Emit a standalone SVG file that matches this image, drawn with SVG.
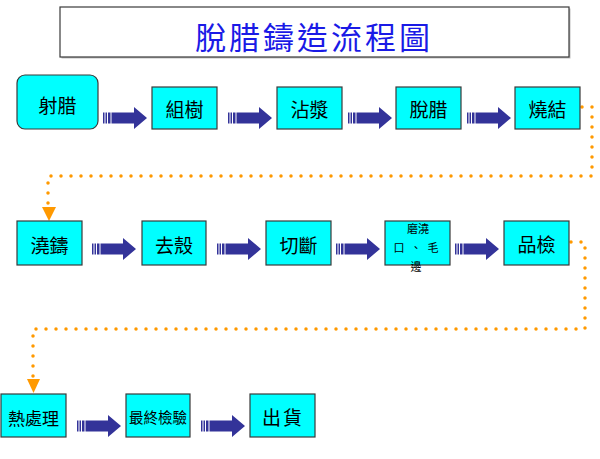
<svg xmlns="http://www.w3.org/2000/svg" xmlns:xlink="http://www.w3.org/1999/xlink" width="600" height="459" viewBox="0 0 600 459">
<style>
.box{fill:#00FFFF;stroke:#3a3a3a;stroke-width:1.2}
.sh{fill:#c0c0c0}
.t{font-family:"Noto Sans CJK TC","Noto Sans CJK SC",sans-serif;fill:#000;text-anchor:middle;dominant-baseline:central}
.dot{fill:none;stroke:#FF9900;stroke-width:3.5;stroke-linecap:round;stroke-dasharray:0 10}
.ah{fill:#FF9900}
</style>
<defs>
<g id="arr" fill="#333399">
<rect x="0" y="-5.5" width="1.5" height="11"/>
<rect x="2.5" y="-5.5" width="1.5" height="11"/>
<rect x="5" y="-5.5" width="2.5" height="11"/>
<path d="M8.5 -5.5 H31 V-11 L44 0 L31 11 V5.5 H8.5 Z"/>
</g>
</defs>
<rect width="600" height="459" fill="#fff"/>
<g id="title">
<rect x="61.5" y="8.5" width="509" height="50" class="sh"/>
<rect x="60" y="7" width="509" height="50" fill="#fff" stroke="#3a3a3a" stroke-width="1.2"/>
<text x="314" y="35" font-family="'Noto Sans CJK TC','Noto Sans CJK SC',sans-serif" font-size="31" letter-spacing="3" fill="#1a1ae6" text-anchor="middle" dominant-baseline="central">脫腊鑄造流程圖</text>
</g>
<g id="connectors">
<use xlink:href="#arr" x="103" y="118"/>
<use xlink:href="#arr" x="228" y="118"/>
<use xlink:href="#arr" x="348" y="118"/>
<use xlink:href="#arr" x="467" y="118"/>
<use xlink:href="#arr" x="92" y="249"/>
<use xlink:href="#arr" x="217" y="249"/>
<use xlink:href="#arr" x="336" y="249"/>
<use xlink:href="#arr" x="455" y="249"/>
<use xlink:href="#arr" x="77" y="426"/>
<use xlink:href="#arr" x="201" y="426"/>
<path class="dot" d="M582 107 H592 V176 H48 V206"/>
<polygon class="ah" points="42,207 56,207 49,221"/>
<path class="dot" d="M571 242 H585 V329 H33 V379"/>
<polygon class="ah" points="27,379 40,379 33.5,393"/>
</g>
<g id="n1">
<rect x="17" y="75" width="81" height="54" rx="8" class="box"/>
<text x="57.5" y="104" class="t" font-size="19">射腊</text>
</g>
<g id="n2">
<rect x="152" y="87" width="65" height="42" class="box"/>
<text x="184.5" y="108" class="t" font-size="19">組樹</text>
</g>
<g id="n3">
<rect x="277" y="87" width="65" height="42" class="box"/>
<text x="309.5" y="108" class="t" font-size="19">沾漿</text>
</g>
<g id="n4">
<rect x="396" y="87" width="65" height="42" class="box"/>
<text x="428.5" y="108" class="t" font-size="19">脫腊</text>
</g>
<g id="n5">
<rect x="515" y="87" width="65" height="42" class="box"/>
<text x="547.5" y="108" class="t" font-size="19">燒結</text>
</g>
<g id="n6">
<rect x="17" y="221" width="65" height="44" class="box"/>
<text x="49.5" y="244" class="t" font-size="19">澆鑄</text>
</g>
<g id="n7">
<rect x="142" y="221" width="64" height="44" class="box"/>
<text x="174" y="244" class="t" font-size="19">去殼</text>
</g>
<g id="n8">
<rect x="266" y="221" width="65" height="44" class="box"/>
<text x="298.5" y="244" class="t" font-size="19">切斷</text>
</g>
<g id="n9">
<rect x="385" y="221" width="65" height="44" class="box"/>
<text x="418" y="228" class="t" font-size="11">磨澆</text>
<text x="419" y="247" class="t" font-size="11" letter-spacing="6">口、毛</text>
<text x="416" y="266" class="t" font-size="11">邊</text>
</g>
<g id="n10">
<rect x="504" y="221" width="65" height="44" class="box"/>
<text x="536.5" y="243" class="t" font-size="19">品檢</text>
</g>
<g id="n11">
<rect x="1" y="394" width="65" height="43" class="box"/>
<text x="33.5" y="417" class="t" font-size="17">熱處理</text>
</g>
<g id="n12">
<rect x="126" y="394" width="64" height="43" class="box"/>
<text x="158" y="416" class="t" font-size="14.5">最終檢驗</text>
</g>
<g id="n13">
<rect x="250" y="394" width="65" height="43" class="box"/>
<text x="283" y="416" class="t" font-size="19" letter-spacing="2">出貨</text>
</g>
</svg>
